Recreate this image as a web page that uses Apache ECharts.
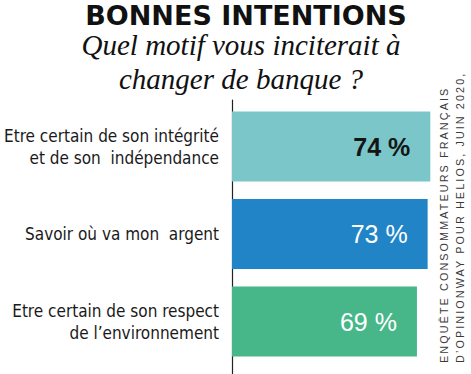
<!DOCTYPE html>
<html><head><meta charset="utf-8">
<script src="https://cdn.jsdelivr.net/npm/echarts@6/dist/echarts.min.js"></script>
<style>html,body{margin:0;padding:0;background:#fff}#c{width:471px;height:374px}</style>
</head><body><div id="c"></div>
<script>
const titleText = 'BONNES INTENTIONS';
const subtitleText = 'Quel motif vous inciterait à\nchanger de banque ?';
const categories = [
  'Etre certain de son intégrité\net de son  indépendance',
  'Savoir où va mon  argent',
  'Etre certain de son respect\nde l’environnement'
];
const values = [74, 73, 69];
const barColors = ['#7bc6c9', '#2184c7', '#47b78a'];
const labelColors = ['#151515', '#ffffff', '#ffffff'];
const labelWeights = ['bold', 'normal', 'normal'];
const sourceLines = ['ENQUÊTE CONSOMMATEURS FRANÇAIS', 'D’OPINIONWAY POUR HELIOS, JUIN 2020,'];

const chart = echarts.init(document.getElementById('c'), null, {renderer: 'svg'});
const condensed = "'Liberation Sans Narrow', 'DejaVu Sans Condensed', 'Roboto', sans-serif";
chart.setOption({
  animation: false,
  backgroundColor: '#ffffff',
  grid: [
    {left: 232, top: 102.75, height: 262.5, width: 214.4},
    {left: 232, top: 100, height: 274, width: 214.4}
  ],
  xAxis: [
    {gridIndex: 0, type: 'value', min: 0, max: 80, show: false},
    {gridIndex: 1, type: 'value', min: 0, max: 80, show: false}
  ],
  yAxis: [
    {gridIndex: 0, type: 'category', data: categories, inverse: true,
     axisLine: {show: false}, axisTick: {show: false}, splitLine: {show: false},
     axisLabel: {margin: 13, fontFamily: condensed, fontSize: 17, lineHeight: 22, color: '#1a1a1a', align: 'right'}},
    {gridIndex: 1, type: 'category', data: categories, inverse: true, z: 0,
     axisLine: {show: true, lineStyle: {color: '#222', width: 1.2}},
     axisTick: {show: false}, axisLabel: {show: false}, splitLine: {show: false}}
  ],
  series: [{
    type: 'bar', xAxisIndex: 0, yAxisIndex: 0, barWidth: 70, z: 3,
    data: values.map((v, i) => ({
      value: v,
      itemStyle: {color: barColors[i]},
      label: {color: labelColors[i], fontWeight: labelWeights[i]}
    })),
    label: {show: true, position: 'insideRight', distance: 20,
            fontFamily: "'Liberation Sans', Arial, sans-serif", fontSize: 25,
            formatter: p => p.value + ' %'}
  }],
  graphic: [
    {type: 'text', x: 246, y: 15,
     style: {text: titleText, fontFamily: 'DejaVu Sans', fontWeight: 'bold', fontSize: 27,
             fill: '#111', textAlign: 'center', textVerticalAlign: 'middle'}},
    {type: 'text', x: 241, y: 62,
     style: {text: subtitleText, fontFamily: "'Liberation Serif', serif", fontStyle: 'italic',
             fontSize: 29, lineHeight: 34, fill: '#111', textAlign: 'center', textVerticalAlign: 'middle'}}
  ].concat(sourceLines.map((t, i) => ({
    type: 'text', x: 444 + i * 16, y: 363, rotation: Math.PI / 2,
    style: {text: t, fontFamily: "'Liberation Sans', Arial, sans-serif", fontSize: 10.8,
            fill: '#3a3a3a', textAlign: 'left', textVerticalAlign: 'middle'}
  })))
});

function spaceSource() {
  document.querySelectorAll('#c svg text').forEach(el => {
    if (sourceLines.includes(el.textContent)) el.style.letterSpacing = '2.1px';
  });
}
spaceSource();
chart.on('finished', spaceSource);
setTimeout(spaceSource, 0);
</script></body></html>
